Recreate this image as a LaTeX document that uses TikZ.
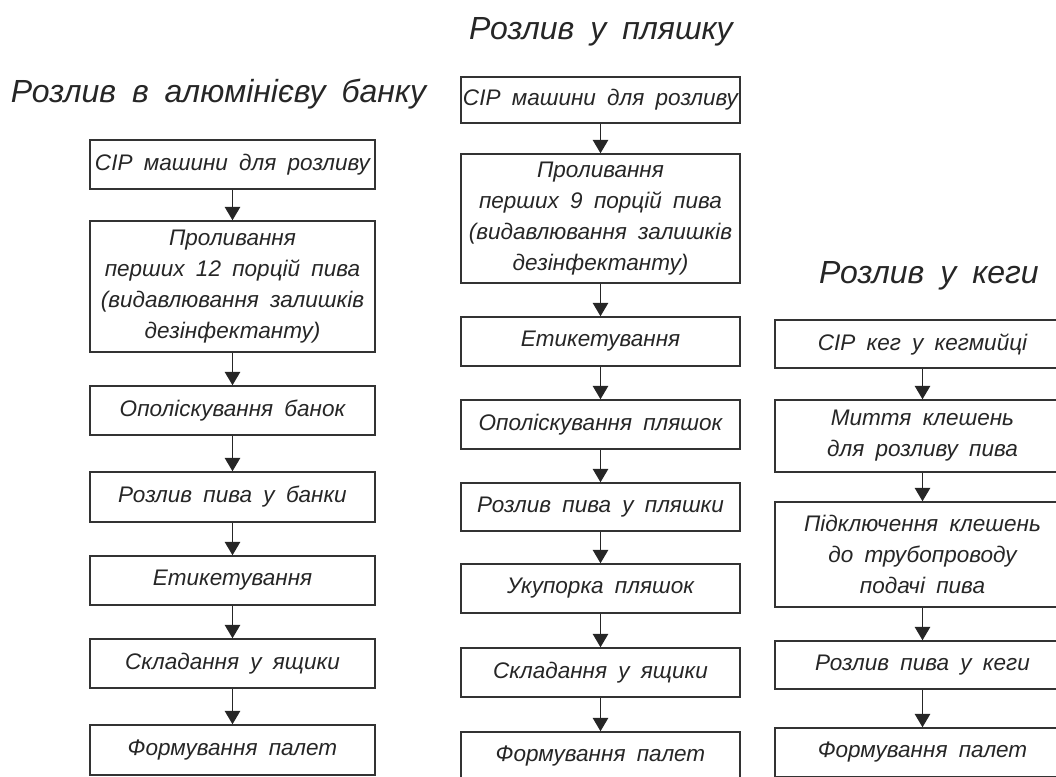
\documentclass[tikz,border=0pt]{standalone}
\usepackage{fontspec}
\setmainfont{Liberation Sans}
\usetikzlibrary{arrows.meta}
\newcommand\widespaces{\spaceskip=0.5em\relax}
\begin{document}
\begin{tikzpicture}[x=0.75pt,y=-0.75pt,
  box/.style 2 args={draw=black!80, line width=1.1pt, align=center, inner sep=0pt,
    minimum width=#1*0.75pt, minimum height=#2*0.75pt, text=black!85,
    font=\fontsize{16.9}{23.3}\selectfont\itshape, execute at begin node=\widespaces},
  arr/.style={draw=black!85, line width=1.1pt, -{Triangle[width=11.5pt,length=10pt]}},
  ttl/.style={font=\fontsize{24}{29}\selectfont\itshape, text=black!85, execute at begin node=\widespaces, anchor=base, inner sep=0pt}]
\useasboundingbox (0,0) rectangle (1056,776);
\clip (0,0) rectangle (1056,776);
% titles
\node[ttl] (t1) at (218.5,102) {Розлив в алюмінієву банку};
\node[ttl] (t2) at (601,39) {Розлив у пляшку};
\node[ttl] (t3) at (929,283) {Розлив у кеги};
% column 1
\node[box={285}{49}] (a1) at (232.5,164.5) {СІР машини для розливу};
\node[box={285}{131}] (a2) at (232.5,286.5) {Проливання\\перших 12 порцій пива\\(видавлювання залишків\\дезінфектанту)};
\node[box={285}{49}] (a3) at (232.5,410.5) {Ополіскування банок};
\node[box={285}{50}] (a4) at (232.5,497) {Розлив пива у банки};
\node[box={285}{49}] (a5) at (232.5,580.5) {Етикетування};
\node[box={285}{49}] (a6) at (232.5,663.5) {Складання у ящики};
\node[box={285}{50}] (a7) at (232.5,750) {Формування палет};
% column 2
\node[box={279}{46}] (b1) at (600.5,100) {СІР машини для розливу};
\node[box={279}{129}] (b2) at (600.5,218.5) {Проливання\\перших 9 порцій пива\\(видавлювання залишків\\дезінфектанту)};
\node[box={279}{49}] (b3) at (600.5,341.5) {Етикетування};
\node[box={279}{49}] (b4) at (600.5,424.5) {Ополіскування пляшок};
\node[box={279}{48}] (b5) at (600.5,507) {Розлив пива у пляшки};
\node[box={279}{49}] (b6) at (600.5,588.5) {Укупорка пляшок};
\node[box={279}{49}] (b7) at (600.5,672.5) {Складання у ящики};
\node[box={279}{49}] (b8) at (600.5,756.5) {Формування палет};
% column 3
\node[box={295}{48}] (c1) at (922.5,344) {СІР кег у кегмийці};
\node[box={295}{72}] (c2) at (922.5,436) {Миття клешень\\для розливу пива};
\node[box={295}{105}] (c3) at (922.5,554.5) {Підключення клешень\\до трубопроводу\\подачі пива};
\node[box={295}{48}] (c4) at (922.5,665) {Розлив пива у кеги};
\node[box={295}{49}] (c5) at (922.5,752.5) {Формування палет};
% arrows
\foreach \p/\q in {a1/a2,a2/a3,a3/a4,a4/a5,a5/a6,a6/a7,
                   b1/b2,b2/b3,b3/b4,b4/b5,b5/b6,b6/b7,b7/b8,
                   c1/c2,c2/c3,c3/c4,c4/c5}
  \draw[arr] (\p) -- (\q);
\end{tikzpicture}
\end{document}
